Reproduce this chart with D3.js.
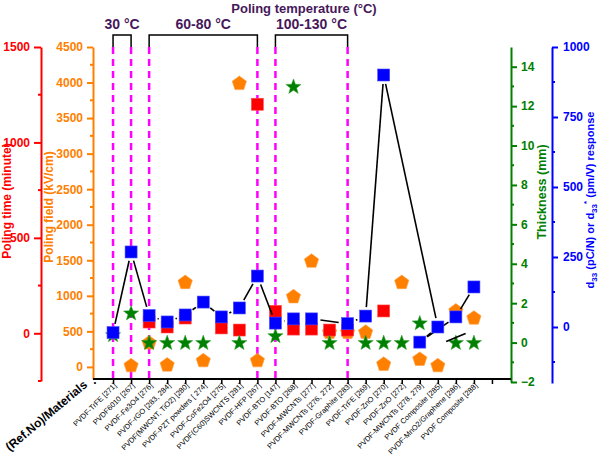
<!DOCTYPE html>
<html><head><meta charset="utf-8">
<script src="https://cdn.jsdelivr.net/npm/d3@7"></script>
<style>body{margin:0;background:#fff} svg{display:block;font-family:Arial,"Liberation Sans",sans-serif}</style>
</head><body>
<svg id="c" width="600" height="458"></svg>
<script>
// ---------- data ----------
const categories = ["PVDF-TrFE [271]","PVDF6010 [267]","PVDF-Fe3O4 [276]","PVDF-rGO [283, 284]","PVDF(MWCNT, TiO2) [280]",
  "PVDF-PZT powders [ 274]","PVDF-CoFe2O4 [275]","PVDF(C60)SWCNTS [281]","PVDF-HFP [267]","PVDF-BTO [147]",
  "PVDF-BTO [268]","PVDF-MWCNTs [277]","PVDF-MWCNTs [276, 272]","PVDF-Graphite [283]","PVDF-TrFE [269]",
  "PVDF-ZnO [270]","PVDF-ZnO [272]","PVDF-MWCNTs [278, 279]","PVDF Composite [285]","PVDF-MnO2/Graphene [286]","PVDF Composite [288]"];
const timePos  = [3,4,5,7,8,9,10,11,12,13,14,16];
const timeVal  = [59,33,80,28,17,1200,115,22,22,17,17,117];
const fieldPos = [2,3,4,5,6,8,9,11,12,13,14,15,16,17,18,19,20,21];
const fieldVal = [30,350,40,1200,100,4000,100,1000,1500,500,500,500,50,1200,120,30,800,700];
const thickPos = [1,2,3,4,5,6,8,10,11,13,15,16,17,18,20,21];
const thickVal = [0.4,1.5,0,0,0,0,0,0.35,13,0,0,0,0,1,0,0];
const d33Pos   = [1,2,3,4,5,6,7,8,9,10,11,12,14,15,16,19,18,20,21];
const d33Val   = [-20,268,41,18,43,89,36,68,182,14,29,29,12,39,900,0,-54,36,143];
const d33AuxPos = [19,21];
const d33AuxVal = [-64,-11];
const dashPos = [1,2,3,9,10,14];
const tempGroups = [{label:"30 °C",from:1,to:2},{label:"60-80 °C",from:3,to:9},{label:"100-130 °C",from:10,to:14}];
const timeTicks = [0,500,1000,1500], timeMinor=[-250,250,750,1250];
const fieldTicks = [0,500,1000,1500,2000,2500,3000,3500,4000,4500];
const fieldMinor = [250,750,1250,1750,2250,2750,3250,3750,4250];
const thickTicks = [-2,0,2,4,6,8,10,12,14], thickMinor=[-1,1,3,5,7,9,11,13];
const d33Ticks = [0,250,500,750,1000], d33Minor=[-125,125,375,625,875];

// ---------- scales ----------
const svg = d3.select("#c");
const x = d3.scaleLinear().domain([0,23]).range([95,510]);
const yTime = d3.scaleLinear().domain([-250,1500]).range([381,47]);
const yField = d3.scaleLinear().domain([-170,4500]).range([379,47]);
const yThick = d3.scaleLinear().domain([-2,15]).range([382,47]);
const yD33 = d3.scaleLinear().domain([-200,1000]).range([383,47]);
const fmt = d3.format("d");

const RED="#ff0000", ORANGE="#ff8000", GREEN="#008000", BLUE="#0000ff", PURPLE="#46175a", MAG="#ff00ff";

// ---------- magenta dashed lines ----------
svg.append("g").selectAll("line").data(dashPos).join("line")
  .attr("x1",d=>x(d)).attr("x2",d=>x(d)).attr("y1",47).attr("y2",379)
  .attr("stroke",MAG).attr("stroke-width",2.5).attr("stroke-dasharray","7,5");

// ---------- brackets ----------
const gb = svg.append("g");
tempGroups.forEach(g=>{
  gb.append("path").attr("d",`M${x(g.from)},47V35H${x(g.to)}V47`).attr("fill","none").attr("stroke","#000").attr("stroke-width",1.5);
  gb.append("text").attr("x",(x(g.from)+x(g.to))/2).attr("y",29).attr("text-anchor","middle")
    .attr("font-size",14).attr("font-weight","bold").attr("fill",PURPLE).text(g.label);
});
svg.append("text").attr("x",304).attr("y",13).attr("text-anchor","middle").attr("font-size",13)
  .attr("font-weight","bold").attr("fill",PURPLE).text("Poling temperature (°C)");

// ---------- axes ----------
function styleAxis(g,color,fs){
  g.selectAll("path.domain").attr("stroke",color).attr("stroke-width",2);
  g.selectAll(".tick line").attr("stroke",color).attr("stroke-width",2);
  g.selectAll(".tick text").attr("fill",color).attr("font-size",fs||12).attr("font-weight","bold").attr("font-family","Arial, Liberation Sans, sans-serif");
}
function minor(gx, scale, vals, color, dir, len){
  gx.append("g").selectAll("line").data(vals).join("line")
    .attr("x1",0).attr("x2",dir*len).attr("y1",d=>scale(d)).attr("y2",d=>scale(d))
    .attr("stroke",color).attr("stroke-width",2);
}
// red
const gR = svg.append("g").attr("transform","translate(41,0)")
  .call(d3.axisLeft(yTime).tickValues(timeTicks).tickFormat(fmt).tickSize(7).tickSizeOuter(0).tickPadding(4));
styleAxis(gR,RED); minor(gR,yTime,timeMinor,RED,-1,3);
// orange
const gO = svg.append("g").attr("transform","translate(93,0)")
  .call(d3.axisLeft(yField).tickValues(fieldTicks).tickFormat(fmt).tickSize(6).tickSizeOuter(0).tickPadding(4));
styleAxis(gO,ORANGE); minor(gO,yField,fieldMinor,ORANGE,-1,3);
// green
const gG = svg.append("g").attr("transform","translate(511,0)")
  .call(d3.axisRight(yThick).tickValues(thickTicks).tickFormat(fmt).tickSize(6).tickSizeOuter(0).tickPadding(4));
styleAxis(gG,GREEN); minor(gG,yThick,thickMinor,GREEN,1,3);
// blue
const gB = svg.append("g").attr("transform","translate(552,0)")
  .call(d3.axisRight(yD33).tickValues(d33Ticks).tickFormat(fmt).tickSize(6).tickSizeOuter(0).tickPadding(5));
styleAxis(gB,BLUE); minor(gB,yD33,d33Minor,BLUE,1,3);

// x axis
const xTickVals = d3.range(1,23);
const gX = svg.append("g").attr("transform","translate(0,379)")
  .call(d3.axisBottom(x).tickValues(xTickVals).tickSize(5).tickSizeOuter(0).tickFormat(""));
gX.select("path.domain").attr("stroke","#000").attr("stroke-width",2).attr("d","M93,0H511");
gX.selectAll(".tick line").attr("stroke","#000").attr("stroke-width",1.5);
svg.append("g").selectAll("text").data(categories).join("text")
  .attr("transform",(d,i)=>`translate(${x(i+1)+4},386) rotate(-45)`)
  .attr("text-anchor","end").attr("font-size",7.5).attr("fill","#000").text(d=>d);
svg.append("text").attr("transform",`translate(88,386) rotate(-40)`).attr("text-anchor","end")
  .attr("font-size",12).attr("font-weight","bold").attr("fill","#000").text("(Ref.No)/Materials");
svg.append("text").attr("x",x(0)).attr("y",384).attr("text-anchor","middle").attr("font-size",12)
  .attr("font-weight","bold").text(".");

// axis titles
function vtitle(tx,ty,color,fs){ return svg.append("text").attr("transform",`translate(${tx},${ty}) rotate(-90)`)
  .attr("text-anchor","middle").attr("font-size",fs).attr("font-weight","bold").attr("fill",color); }
vtitle(11,201,RED,12).text("Poling time (minute)");
vtitle(53,207,ORANGE,12).text("Poling field (kV/cm)");
vtitle(546,192,GREEN,12.5).text("Thickness (mm)");
const bt = vtitle(594,200,BLUE,11);
bt.append("tspan").text("d");
bt.append("tspan").attr("font-size",8).attr("dy",2.5).text("33");
bt.append("tspan").attr("dy",-2.5).text(" (pC/N) or d");
bt.append("tspan").attr("font-size",8).attr("dy",2.5).text("33");
bt.append("tspan").attr("font-size",8).attr("dy",-7.5).text("*");
bt.append("tspan").attr("dy",5).text(" (pm/V) response");

// ---------- marks ----------
function pentagon(r){ const p=d3.range(5).map(k=>{const a=(-90+k*72)*Math.PI/180;return [r*Math.cos(a),r*Math.sin(a)];}); return "M"+p.join("L")+"Z"; }
function star(ro,ri){ const p=d3.range(10).map(k=>{const a=(-90+k*36)*Math.PI/180, r=k%2?ri:ro;return [r*Math.cos(a),r*Math.sin(a)];}); return "M"+p.join("L")+"Z"; }

svg.append("g").selectAll("path").data(fieldPos).join("path")
  .attr("d",pentagon(7.5)).attr("transform",(d,i)=>`translate(${x(d)},${yField(fieldVal[i])+1})`)
  .attr("fill",ORANGE).attr("stroke","#ffa040").attr("stroke-width",0.6);
svg.append("g").selectAll("rect").data(timePos).join("rect")
  .attr("x",d=>x(d)-6).attr("y",(d,i)=>yTime(timeVal[i])-6).attr("width",12).attr("height",12)
  .attr("fill",RED).attr("stroke","#ff5050").attr("stroke-width",0.6);
svg.append("g").selectAll("path").data(thickPos).join("path")
  .attr("d",star(8,3.3)).attr("transform",(d,i)=>`translate(${x(d)},${yThick(thickVal[i])+0.5})`)
  .attr("fill",GREEN).attr("stroke","#30a030").attr("stroke-width",0.5);

function gapLines(g, px, py, gap){
  for(let i=0;i<px.length-1;i++){
    const ax=px[i], ay=py[i], bx=px[i+1], by=py[i+1];
    const dx=bx-ax, dy=by-ay, L=Math.hypot(dx,dy);
    if(L<=2*gap) continue;
    const ux=dx/L, uy=dy/L;
    g.append("line").attr("x1",ax+ux*gap).attr("y1",ay+uy*gap).attr("x2",bx-ux*gap).attr("y2",by-uy*gap)
      .attr("stroke","#000").attr("stroke-width",1.6);
  }
}
const gl = svg.append("g");
gapLines(gl, d33Pos.map(x), d33Val.map(yD33), 9);
gapLines(gl, d33AuxPos.map(x), d33AuxVal.map(yD33), 9);

svg.append("g").selectAll("rect").data(d33Pos).join("rect")
  .attr("x",d=>x(d)-6).attr("y",(d,i)=>yD33(d33Val[i])-6).attr("width",12).attr("height",12)
  .attr("fill",BLUE).attr("stroke","#4a4aff").attr("stroke-width",0.6);
</script>
</body></html>
